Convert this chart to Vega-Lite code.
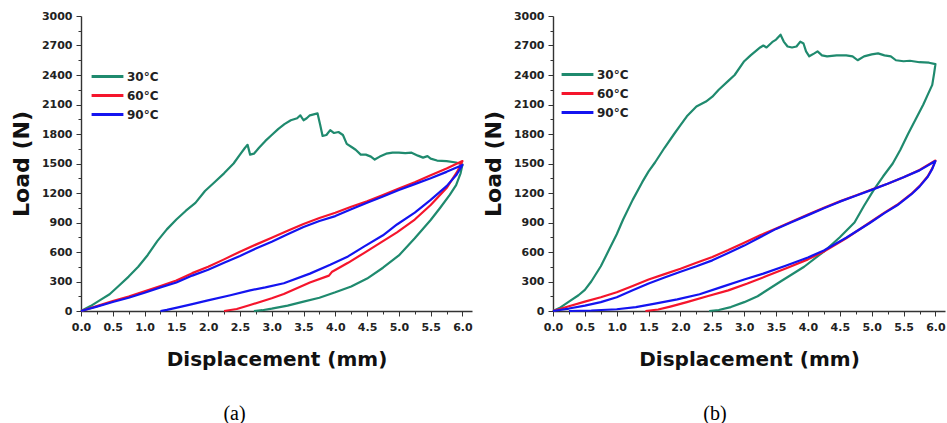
{
  "$schema": "https://vega.github.io/schema/vega-lite/v6.json",
  "background": "white",
  "padding": {"left": 10, "top": 10, "right": 2, "bottom": 0},
  "datasets": {
    "curves": [
      {"p":"a","t":"30°C","i":0,"x":0,"y":0},{"p":"a","t":"30°C","i":1,"x":0.15,"y":50},{"p":"a","t":"30°C","i":2,"x":0.3,"y":110},{"p":"a","t":"30°C","i":3,"x":0.45,"y":170},{"p":"a","t":"30°C","i":4,"x":0.6,"y":260},{"p":"a","t":"30°C","i":5,"x":0.75,"y":350},{"p":"a","t":"30°C","i":6,"x":0.9,"y":450},{"p":"a","t":"30°C","i":7,"x":1.05,"y":570},{"p":"a","t":"30°C","i":8,"x":1.2,"y":710},{"p":"a","t":"30°C","i":9,"x":1.35,"y":830},{"p":"a","t":"30°C","i":10,"x":1.5,"y":930},{"p":"a","t":"30°C","i":11,"x":1.65,"y":1020},{"p":"a","t":"30°C","i":12,"x":1.8,"y":1100},{"p":"a","t":"30°C","i":13,"x":1.95,"y":1220},{"p":"a","t":"30°C","i":14,"x":2.1,"y":1310},{"p":"a","t":"30°C","i":15,"x":2.25,"y":1400},{"p":"a","t":"30°C","i":16,"x":2.4,"y":1500},{"p":"a","t":"30°C","i":17,"x":2.5,"y":1590},{"p":"a","t":"30°C","i":18,"x":2.58,"y":1660},{"p":"a","t":"30°C","i":19,"x":2.62,"y":1690},{"p":"a","t":"30°C","i":20,"x":2.66,"y":1590},{"p":"a","t":"30°C","i":21,"x":2.72,"y":1600},{"p":"a","t":"30°C","i":22,"x":2.8,"y":1660},{"p":"a","t":"30°C","i":23,"x":2.9,"y":1730},{"p":"a","t":"30°C","i":24,"x":3.0,"y":1790},{"p":"a","t":"30°C","i":25,"x":3.1,"y":1850},{"p":"a","t":"30°C","i":26,"x":3.2,"y":1900},{"p":"a","t":"30°C","i":27,"x":3.3,"y":1940},{"p":"a","t":"30°C","i":28,"x":3.4,"y":1960},{"p":"a","t":"30°C","i":29,"x":3.45,"y":1990},{"p":"a","t":"30°C","i":30,"x":3.5,"y":1940},{"p":"a","t":"30°C","i":31,"x":3.55,"y":1960},{"p":"a","t":"30°C","i":32,"x":3.6,"y":1990},{"p":"a","t":"30°C","i":33,"x":3.66,"y":2000},{"p":"a","t":"30°C","i":34,"x":3.72,"y":2010},{"p":"a","t":"30°C","i":35,"x":3.76,"y":1900},{"p":"a","t":"30°C","i":36,"x":3.8,"y":1780},{"p":"a","t":"30°C","i":37,"x":3.86,"y":1790},{"p":"a","t":"30°C","i":38,"x":3.92,"y":1840},{"p":"a","t":"30°C","i":39,"x":3.98,"y":1810},{"p":"a","t":"30°C","i":40,"x":4.05,"y":1820},{"p":"a","t":"30°C","i":41,"x":4.12,"y":1790},{"p":"a","t":"30°C","i":42,"x":4.18,"y":1700},{"p":"a","t":"30°C","i":43,"x":4.25,"y":1670},{"p":"a","t":"30°C","i":44,"x":4.32,"y":1640},{"p":"a","t":"30°C","i":45,"x":4.4,"y":1590},{"p":"a","t":"30°C","i":46,"x":4.48,"y":1590},{"p":"a","t":"30°C","i":47,"x":4.56,"y":1570},{"p":"a","t":"30°C","i":48,"x":4.62,"y":1540},{"p":"a","t":"30°C","i":49,"x":4.7,"y":1570},{"p":"a","t":"30°C","i":50,"x":4.8,"y":1600},{"p":"a","t":"30°C","i":51,"x":4.9,"y":1610},{"p":"a","t":"30°C","i":52,"x":5.0,"y":1610},{"p":"a","t":"30°C","i":53,"x":5.1,"y":1605},{"p":"a","t":"30°C","i":54,"x":5.2,"y":1610},{"p":"a","t":"30°C","i":55,"x":5.3,"y":1580},{"p":"a","t":"30°C","i":56,"x":5.38,"y":1560},{"p":"a","t":"30°C","i":57,"x":5.45,"y":1575},{"p":"a","t":"30°C","i":58,"x":5.5,"y":1550},{"p":"a","t":"30°C","i":59,"x":5.6,"y":1530},{"p":"a","t":"30°C","i":60,"x":5.75,"y":1525},{"p":"a","t":"30°C","i":61,"x":5.9,"y":1510},{"p":"a","t":"30°C","i":62,"x":6.0,"y":1490},{"p":"a","t":"30°C","i":63,"x":5.97,"y":1400},{"p":"a","t":"30°C","i":64,"x":5.9,"y":1280},{"p":"a","t":"30°C","i":65,"x":5.8,"y":1180},{"p":"a","t":"30°C","i":66,"x":5.65,"y":1050},{"p":"a","t":"30°C","i":67,"x":5.5,"y":925},{"p":"a","t":"30°C","i":68,"x":5.25,"y":740},{"p":"a","t":"30°C","i":69,"x":5.0,"y":565},{"p":"a","t":"30°C","i":70,"x":4.75,"y":440},{"p":"a","t":"30°C","i":71,"x":4.5,"y":330},{"p":"a","t":"30°C","i":72,"x":4.25,"y":250},{"p":"a","t":"30°C","i":73,"x":4.0,"y":190},{"p":"a","t":"30°C","i":74,"x":3.75,"y":135},{"p":"a","t":"30°C","i":75,"x":3.5,"y":95},{"p":"a","t":"30°C","i":76,"x":3.25,"y":55},{"p":"a","t":"30°C","i":77,"x":3.0,"y":24},{"p":"a","t":"30°C","i":78,"x":2.85,"y":8},{"p":"a","t":"30°C","i":79,"x":2.72,"y":0},
      {"p":"a","t":"60°C","i":0,"x":0,"y":0},{"p":"a","t":"60°C","i":1,"x":0.25,"y":50},{"p":"a","t":"60°C","i":2,"x":0.5,"y":100},{"p":"a","t":"60°C","i":3,"x":0.75,"y":148},{"p":"a","t":"60°C","i":4,"x":1.0,"y":200},{"p":"a","t":"60°C","i":5,"x":1.25,"y":255},{"p":"a","t":"60°C","i":6,"x":1.5,"y":310},{"p":"a","t":"60°C","i":7,"x":1.75,"y":385},{"p":"a","t":"60°C","i":8,"x":2.0,"y":450},{"p":"a","t":"60°C","i":9,"x":2.25,"y":525},{"p":"a","t":"60°C","i":10,"x":2.5,"y":603},{"p":"a","t":"60°C","i":11,"x":2.75,"y":675},{"p":"a","t":"60°C","i":12,"x":3.0,"y":745},{"p":"a","t":"60°C","i":13,"x":3.25,"y":815},{"p":"a","t":"60°C","i":14,"x":3.5,"y":885},{"p":"a","t":"60°C","i":15,"x":3.75,"y":945},{"p":"a","t":"60°C","i":16,"x":4.0,"y":1000},{"p":"a","t":"60°C","i":17,"x":4.25,"y":1060},{"p":"a","t":"60°C","i":18,"x":4.5,"y":1115},{"p":"a","t":"60°C","i":19,"x":4.75,"y":1180},{"p":"a","t":"60°C","i":20,"x":5.0,"y":1245},{"p":"a","t":"60°C","i":21,"x":5.25,"y":1310},{"p":"a","t":"60°C","i":22,"x":5.5,"y":1380},{"p":"a","t":"60°C","i":23,"x":5.75,"y":1450},{"p":"a","t":"60°C","i":24,"x":6.0,"y":1525},{"p":"a","t":"60°C","i":25,"x":5.92,"y":1420},{"p":"a","t":"60°C","i":26,"x":5.75,"y":1250},{"p":"a","t":"60°C","i":27,"x":5.5,"y":1078},{"p":"a","t":"60°C","i":28,"x":5.25,"y":930},{"p":"a","t":"60°C","i":29,"x":4.97,"y":800},{"p":"a","t":"60°C","i":30,"x":4.7,"y":690},{"p":"a","t":"60°C","i":31,"x":4.45,"y":589},{"p":"a","t":"60°C","i":32,"x":4.2,"y":490},{"p":"a","t":"60°C","i":33,"x":3.95,"y":400},{"p":"a","t":"60°C","i":34,"x":3.9,"y":360},{"p":"a","t":"60°C","i":35,"x":3.6,"y":290},{"p":"a","t":"60°C","i":36,"x":3.19,"y":173},{"p":"a","t":"60°C","i":37,"x":3.0,"y":130},{"p":"a","t":"60°C","i":38,"x":2.66,"y":61},{"p":"a","t":"60°C","i":39,"x":2.45,"y":20},{"p":"a","t":"60°C","i":40,"x":2.25,"y":0},
      {"p":"a","t":"90°C","i":0,"x":0,"y":0},{"p":"a","t":"90°C","i":1,"x":0.25,"y":45},{"p":"a","t":"90°C","i":2,"x":0.5,"y":92},{"p":"a","t":"90°C","i":3,"x":0.75,"y":135},{"p":"a","t":"90°C","i":4,"x":1.0,"y":185},{"p":"a","t":"90°C","i":5,"x":1.25,"y":240},{"p":"a","t":"90°C","i":6,"x":1.5,"y":290},{"p":"a","t":"90°C","i":7,"x":1.75,"y":360},{"p":"a","t":"90°C","i":8,"x":2.0,"y":420},{"p":"a","t":"90°C","i":9,"x":2.25,"y":490},{"p":"a","t":"90°C","i":10,"x":2.5,"y":560},{"p":"a","t":"90°C","i":11,"x":2.75,"y":635},{"p":"a","t":"90°C","i":12,"x":3.0,"y":705},{"p":"a","t":"90°C","i":13,"x":3.25,"y":780},{"p":"a","t":"90°C","i":14,"x":3.5,"y":855},{"p":"a","t":"90°C","i":15,"x":3.75,"y":915},{"p":"a","t":"90°C","i":16,"x":4.0,"y":965},{"p":"a","t":"90°C","i":17,"x":4.25,"y":1035},{"p":"a","t":"90°C","i":18,"x":4.5,"y":1100},{"p":"a","t":"90°C","i":19,"x":4.75,"y":1165},{"p":"a","t":"90°C","i":20,"x":5.0,"y":1230},{"p":"a","t":"90°C","i":21,"x":5.25,"y":1290},{"p":"a","t":"90°C","i":22,"x":5.5,"y":1350},{"p":"a","t":"90°C","i":23,"x":5.75,"y":1415},{"p":"a","t":"90°C","i":24,"x":6.0,"y":1485},{"p":"a","t":"90°C","i":25,"x":5.9,"y":1380},{"p":"a","t":"90°C","i":26,"x":5.75,"y":1270},{"p":"a","t":"90°C","i":27,"x":5.5,"y":1130},{"p":"a","t":"90°C","i":28,"x":5.25,"y":1000},{"p":"a","t":"90°C","i":29,"x":4.97,"y":880},{"p":"a","t":"90°C","i":30,"x":4.75,"y":770},{"p":"a","t":"90°C","i":31,"x":4.45,"y":655},{"p":"a","t":"90°C","i":32,"x":4.2,"y":555},{"p":"a","t":"90°C","i":33,"x":3.92,"y":470},{"p":"a","t":"90°C","i":34,"x":3.6,"y":380},{"p":"a","t":"90°C","i":35,"x":3.19,"y":282},{"p":"a","t":"90°C","i":36,"x":2.9,"y":240},{"p":"a","t":"90°C","i":37,"x":2.66,"y":210},{"p":"a","t":"90°C","i":38,"x":2.35,"y":160},{"p":"a","t":"90°C","i":39,"x":1.98,"y":105},{"p":"a","t":"90°C","i":40,"x":1.75,"y":70},{"p":"a","t":"90°C","i":41,"x":1.51,"y":35},{"p":"a","t":"90°C","i":42,"x":1.35,"y":12},{"p":"a","t":"90°C","i":43,"x":1.25,"y":0},
      {"p":"b","t":"30°C","i":0,"x":0,"y":0},{"p":"b","t":"30°C","i":1,"x":0.1,"y":30},{"p":"b","t":"30°C","i":2,"x":0.25,"y":95},{"p":"b","t":"30°C","i":3,"x":0.4,"y":160},{"p":"b","t":"30°C","i":4,"x":0.5,"y":215},{"p":"b","t":"30°C","i":5,"x":0.6,"y":300},{"p":"b","t":"30°C","i":6,"x":0.75,"y":455},{"p":"b","t":"30°C","i":7,"x":0.9,"y":650},{"p":"b","t":"30°C","i":8,"x":1.0,"y":780},{"p":"b","t":"30°C","i":9,"x":1.1,"y":930},{"p":"b","t":"30°C","i":10,"x":1.25,"y":1130},{"p":"b","t":"30°C","i":11,"x":1.4,"y":1310},{"p":"b","t":"30°C","i":12,"x":1.5,"y":1420},{"p":"b","t":"30°C","i":13,"x":1.6,"y":1510},{"p":"b","t":"30°C","i":14,"x":1.75,"y":1660},{"p":"b","t":"30°C","i":15,"x":1.9,"y":1800},{"p":"b","t":"30°C","i":16,"x":2.0,"y":1890},{"p":"b","t":"30°C","i":17,"x":2.1,"y":1980},{"p":"b","t":"30°C","i":18,"x":2.25,"y":2080},{"p":"b","t":"30°C","i":19,"x":2.4,"y":2130},{"p":"b","t":"30°C","i":20,"x":2.5,"y":2180},{"p":"b","t":"30°C","i":21,"x":2.6,"y":2250},{"p":"b","t":"30°C","i":22,"x":2.75,"y":2340},{"p":"b","t":"30°C","i":23,"x":2.85,"y":2400},{"p":"b","t":"30°C","i":24,"x":3.0,"y":2540},{"p":"b","t":"30°C","i":25,"x":3.1,"y":2600},{"p":"b","t":"30°C","i":26,"x":3.25,"y":2680},{"p":"b","t":"30°C","i":27,"x":3.3,"y":2700},{"p":"b","t":"30°C","i":28,"x":3.35,"y":2680},{"p":"b","t":"30°C","i":29,"x":3.45,"y":2740},{"p":"b","t":"30°C","i":30,"x":3.5,"y":2760},{"p":"b","t":"30°C","i":31,"x":3.57,"y":2810},{"p":"b","t":"30°C","i":32,"x":3.62,"y":2740},{"p":"b","t":"30°C","i":33,"x":3.68,"y":2690},{"p":"b","t":"30°C","i":34,"x":3.75,"y":2680},{"p":"b","t":"30°C","i":35,"x":3.82,"y":2690},{"p":"b","t":"30°C","i":36,"x":3.88,"y":2740},{"p":"b","t":"30°C","i":37,"x":3.93,"y":2720},{"p":"b","t":"30°C","i":38,"x":3.97,"y":2640},{"p":"b","t":"30°C","i":39,"x":4.02,"y":2590},{"p":"b","t":"30°C","i":40,"x":4.1,"y":2620},{"p":"b","t":"30°C","i":41,"x":4.15,"y":2640},{"p":"b","t":"30°C","i":42,"x":4.22,"y":2600},{"p":"b","t":"30°C","i":43,"x":4.3,"y":2590},{"p":"b","t":"30°C","i":44,"x":4.45,"y":2600},{"p":"b","t":"30°C","i":45,"x":4.6,"y":2600},{"p":"b","t":"30°C","i":46,"x":4.7,"y":2590},{"p":"b","t":"30°C","i":47,"x":4.78,"y":2550},{"p":"b","t":"30°C","i":48,"x":4.88,"y":2590},{"p":"b","t":"30°C","i":49,"x":5.0,"y":2610},{"p":"b","t":"30°C","i":50,"x":5.1,"y":2620},{"p":"b","t":"30°C","i":51,"x":5.2,"y":2600},{"p":"b","t":"30°C","i":52,"x":5.3,"y":2590},{"p":"b","t":"30°C","i":53,"x":5.38,"y":2550},{"p":"b","t":"30°C","i":54,"x":5.5,"y":2540},{"p":"b","t":"30°C","i":55,"x":5.6,"y":2545},{"p":"b","t":"30°C","i":56,"x":5.75,"y":2530},{"p":"b","t":"30°C","i":57,"x":5.9,"y":2525},{"p":"b","t":"30°C","i":58,"x":6.0,"y":2510},{"p":"b","t":"30°C","i":59,"x":5.98,"y":2420},{"p":"b","t":"30°C","i":60,"x":5.95,"y":2300},{"p":"b","t":"30°C","i":61,"x":5.88,"y":2200},{"p":"b","t":"30°C","i":62,"x":5.81,"y":2100},{"p":"b","t":"30°C","i":63,"x":5.69,"y":1950},{"p":"b","t":"30°C","i":64,"x":5.57,"y":1800},{"p":"b","t":"30°C","i":65,"x":5.45,"y":1640},{"p":"b","t":"30°C","i":66,"x":5.33,"y":1500},{"p":"b","t":"30°C","i":67,"x":5.18,"y":1370},{"p":"b","t":"30°C","i":68,"x":5.04,"y":1240},{"p":"b","t":"30°C","i":69,"x":4.88,"y":1070},{"p":"b","t":"30°C","i":70,"x":4.73,"y":900},{"p":"b","t":"30°C","i":71,"x":4.5,"y":750},{"p":"b","t":"30°C","i":72,"x":4.26,"y":610},{"p":"b","t":"30°C","i":73,"x":3.94,"y":450},{"p":"b","t":"30°C","i":74,"x":3.57,"y":300},{"p":"b","t":"30°C","i":75,"x":3.21,"y":150},{"p":"b","t":"30°C","i":76,"x":3.0,"y":90},{"p":"b","t":"30°C","i":77,"x":2.79,"y":40},{"p":"b","t":"30°C","i":78,"x":2.6,"y":10},{"p":"b","t":"30°C","i":79,"x":2.45,"y":0},
      {"p":"b","t":"60°C","i":0,"x":0,"y":0},{"p":"b","t":"60°C","i":1,"x":0.25,"y":48},{"p":"b","t":"60°C","i":2,"x":0.5,"y":95},{"p":"b","t":"60°C","i":3,"x":0.75,"y":140},{"p":"b","t":"60°C","i":4,"x":1.0,"y":190},{"p":"b","t":"60°C","i":5,"x":1.25,"y":255},{"p":"b","t":"60°C","i":6,"x":1.5,"y":320},{"p":"b","t":"60°C","i":7,"x":1.75,"y":375},{"p":"b","t":"60°C","i":8,"x":2.0,"y":430},{"p":"b","t":"60°C","i":9,"x":2.25,"y":490},{"p":"b","t":"60°C","i":10,"x":2.5,"y":550},{"p":"b","t":"60°C","i":11,"x":2.75,"y":620},{"p":"b","t":"60°C","i":12,"x":3.0,"y":695},{"p":"b","t":"60°C","i":13,"x":3.25,"y":770},{"p":"b","t":"60°C","i":14,"x":3.5,"y":840},{"p":"b","t":"60°C","i":15,"x":3.75,"y":910},{"p":"b","t":"60°C","i":16,"x":4.0,"y":980},{"p":"b","t":"60°C","i":17,"x":4.25,"y":1050},{"p":"b","t":"60°C","i":18,"x":4.5,"y":1115},{"p":"b","t":"60°C","i":19,"x":4.75,"y":1175},{"p":"b","t":"60°C","i":20,"x":5.0,"y":1235},{"p":"b","t":"60°C","i":21,"x":5.25,"y":1295},{"p":"b","t":"60°C","i":22,"x":5.5,"y":1360},{"p":"b","t":"60°C","i":23,"x":5.75,"y":1435},{"p":"b","t":"60°C","i":24,"x":6.0,"y":1530},{"p":"b","t":"60°C","i":25,"x":5.95,"y":1450},{"p":"b","t":"60°C","i":26,"x":5.88,"y":1370},{"p":"b","t":"60°C","i":27,"x":5.75,"y":1270},{"p":"b","t":"60°C","i":28,"x":5.62,"y":1190},{"p":"b","t":"60°C","i":29,"x":5.4,"y":1080},{"p":"b","t":"60°C","i":30,"x":5.2,"y":1000},{"p":"b","t":"60°C","i":31,"x":4.97,"y":900},{"p":"b","t":"60°C","i":32,"x":4.6,"y":740},{"p":"b","t":"60°C","i":33,"x":4.25,"y":605},{"p":"b","t":"60°C","i":34,"x":4.0,"y":525},{"p":"b","t":"60°C","i":35,"x":3.68,"y":440},{"p":"b","t":"60°C","i":36,"x":3.35,"y":355},{"p":"b","t":"60°C","i":37,"x":3.05,"y":280},{"p":"b","t":"60°C","i":38,"x":2.75,"y":210},{"p":"b","t":"60°C","i":39,"x":2.42,"y":150},{"p":"b","t":"60°C","i":40,"x":2.1,"y":90},{"p":"b","t":"60°C","i":41,"x":1.84,"y":45},{"p":"b","t":"60°C","i":42,"x":1.65,"y":15},{"p":"b","t":"60°C","i":43,"x":1.45,"y":0},
      {"p":"b","t":"90°C","i":0,"x":0,"y":0},{"p":"b","t":"90°C","i":1,"x":0.25,"y":25},{"p":"b","t":"90°C","i":2,"x":0.5,"y":55},{"p":"b","t":"90°C","i":3,"x":0.75,"y":90},{"p":"b","t":"90°C","i":4,"x":1.0,"y":140},{"p":"b","t":"90°C","i":5,"x":1.25,"y":210},{"p":"b","t":"90°C","i":6,"x":1.5,"y":280},{"p":"b","t":"90°C","i":7,"x":1.75,"y":340},{"p":"b","t":"90°C","i":8,"x":2.0,"y":400},{"p":"b","t":"90°C","i":9,"x":2.25,"y":455},{"p":"b","t":"90°C","i":10,"x":2.5,"y":515},{"p":"b","t":"90°C","i":11,"x":2.75,"y":590},{"p":"b","t":"90°C","i":12,"x":3.0,"y":665},{"p":"b","t":"90°C","i":13,"x":3.25,"y":750},{"p":"b","t":"90°C","i":14,"x":3.5,"y":835},{"p":"b","t":"90°C","i":15,"x":3.75,"y":905},{"p":"b","t":"90°C","i":16,"x":4.0,"y":975},{"p":"b","t":"90°C","i":17,"x":4.25,"y":1045},{"p":"b","t":"90°C","i":18,"x":4.5,"y":1112},{"p":"b","t":"90°C","i":19,"x":4.75,"y":1172},{"p":"b","t":"90°C","i":20,"x":5.0,"y":1232},{"p":"b","t":"90°C","i":21,"x":5.25,"y":1295},{"p":"b","t":"90°C","i":22,"x":5.5,"y":1360},{"p":"b","t":"90°C","i":23,"x":5.75,"y":1430},{"p":"b","t":"90°C","i":24,"x":6.0,"y":1525},{"p":"b","t":"90°C","i":25,"x":5.95,"y":1445},{"p":"b","t":"90°C","i":26,"x":5.88,"y":1365},{"p":"b","t":"90°C","i":27,"x":5.75,"y":1265},{"p":"b","t":"90°C","i":28,"x":5.62,"y":1185},{"p":"b","t":"90°C","i":29,"x":5.4,"y":1075},{"p":"b","t":"90°C","i":30,"x":5.2,"y":995},{"p":"b","t":"90°C","i":31,"x":4.97,"y":895},{"p":"b","t":"90°C","i":32,"x":4.6,"y":745},{"p":"b","t":"90°C","i":33,"x":4.25,"y":615},{"p":"b","t":"90°C","i":34,"x":4.0,"y":545},{"p":"b","t":"90°C","i":35,"x":3.65,"y":460},{"p":"b","t":"90°C","i":36,"x":3.3,"y":380},{"p":"b","t":"90°C","i":37,"x":3.0,"y":320},{"p":"b","t":"90°C","i":38,"x":2.65,"y":245},{"p":"b","t":"90°C","i":39,"x":2.3,"y":170},{"p":"b","t":"90°C","i":40,"x":1.95,"y":118},{"p":"b","t":"90°C","i":41,"x":1.6,"y":75},{"p":"b","t":"90°C","i":42,"x":1.3,"y":40},{"p":"b","t":"90°C","i":43,"x":1.0,"y":18},{"p":"b","t":"90°C","i":44,"x":0.6,"y":5},{"p":"b","t":"90°C","i":45,"x":0.25,"y":0}
    ]
  },
  "hconcat": [
    {
      "width": 391,
      "height": 295,
      "data": {"name": "curves"},
      "transform": [{"filter": "datum.p === 'a'"}],
      "title": {"text": "(a)", "orient": "bottom", "font": "Liberation Serif", "fontSize": 20, "fontWeight": "normal", "color": "#000", "offset": 35, "anchor": "middle", "dx": -42},
      "mark": {"type": "line", "strokeWidth": 2.2, "strokeJoin": "round"},
      "encoding": {
        "x": {"field": "x", "type": "quantitative", "scale": {"domain": [0, 6.15], "nice": false, "zero": false},
          "axis": {"title": "Displacement (mm)", "values": [0,0.25,0.5,0.75,1,1.25,1.5,1.75,2,2.25,2.5,2.75,3,3.25,3.5,3.75,4,4.25,4.5,4.75,5,5.25,5.5,5.75,6],
            "labelExpr": "round(datum.value*4) % 2 === 0 ? format(datum.value, '.1f') : ''",
            "tickSize": {"condition": {"test": "round(datum.value*4) % 2 === 0", "value": 5}, "value": 3}}},
        "y": {"field": "y", "type": "quantitative", "scale": {"domain": [0, 3000], "nice": false},
          "axis": {"title": "Load (N)", "format": "d", "values": [0,150,300,450,600,750,900,1050,1200,1350,1500,1650,1800,1950,2100,2250,2400,2550,2700,2850,3000],
            "labelExpr": "datum.value % 300 === 0 ? datum.label : ''",
            "tickSize": {"condition": {"test": "datum.value % 300 === 0", "value": 5}, "value": 3}}},
        "color": {"field": "t", "type": "nominal",
          "scale": {"domain": ["30°C", "60°C", "90°C"], "range": ["#1f8a6e", "#f5152c", "#1414f0"]},
          "legend": {"orient": "none", "legendX": 14, "legendY": 48, "title": null, "symbolType": "M-1.5,0H1.5", "symbolSize": 450, "symbolStrokeWidth": 3, "labelFont": "DejaVu Sans", "labelFontWeight": "bold", "labelFontSize": 12, "labelColor": "#222", "labelOffset": 7, "rowPadding": -2}},
        "order": {"field": "i", "type": "quantitative"}
      }
    },
    {
      "width": 392,
      "height": 295,
      "data": {"name": "curves"},
      "transform": [{"filter": "datum.p === 'b'"}],
      "title": {"text": "(b)", "orient": "bottom", "font": "Liberation Serif", "fontSize": 20, "fontWeight": "normal", "color": "#000", "offset": 35, "anchor": "middle", "dx": -34},
      "mark": {"type": "line", "strokeWidth": 2.2, "strokeJoin": "round"},
      "encoding": {
        "x": {"field": "x", "type": "quantitative", "scale": {"domain": [0, 6.15], "nice": false, "zero": false},
          "axis": {"title": "Displacement (mm)", "values": [0,0.25,0.5,0.75,1,1.25,1.5,1.75,2,2.25,2.5,2.75,3,3.25,3.5,3.75,4,4.25,4.5,4.75,5,5.25,5.5,5.75,6],
            "labelExpr": "round(datum.value*4) % 2 === 0 ? format(datum.value, '.1f') : ''",
            "tickSize": {"condition": {"test": "round(datum.value*4) % 2 === 0", "value": 5}, "value": 3}}},
        "y": {"field": "y", "type": "quantitative", "scale": {"domain": [0, 3000], "nice": false},
          "axis": {"title": "Load (N)", "format": "d", "values": [0,150,300,450,600,750,900,1050,1200,1350,1500,1650,1800,1950,2100,2250,2400,2550,2700,2850,3000],
            "labelExpr": "datum.value % 300 === 0 ? datum.label : ''",
            "tickSize": {"condition": {"test": "datum.value % 300 === 0", "value": 5}, "value": 3}}},
        "color": {"field": "t", "type": "nominal",
          "scale": {"domain": ["30°C", "60°C", "90°C"], "range": ["#1f8a6e", "#f5152c", "#1414f0"]},
          "legend": {"orient": "none", "legendX": 12, "legendY": 46, "title": null, "symbolType": "M-1.5,0H1.5", "symbolSize": 450, "symbolStrokeWidth": 3, "labelFont": "DejaVu Sans", "labelFontWeight": "bold", "labelFontSize": 12, "labelColor": "#222", "labelOffset": 7, "rowPadding": -2}},
        "order": {"field": "i", "type": "quantitative"}
      }
    }
  ],
  "spacing": 81,
  "bounds": "flush",
  "resolve": {"legend": {"color": "independent"}},
  "config": {
    "view": {"stroke": null},
    "axis": {
      "grid": false,
      "domainColor": "#333",
      "domainWidth": 1.4,
      "tickColor": "#333",
      "tickWidth": 1,
      "labelFont": "DejaVu Sans",
      "labelFontWeight": "bold",
      "labelFontSize": 11,
      "labelColor": "#222",
      "labelPadding": 4,
      "labelOverlap": false,
      "labelFlush": false,
      "titleFont": "DejaVu Sans",
      "titleFontWeight": "bold",
      "titleColor": "#111"
    },
    "axisX": {"titleFontSize": 20, "titlePadding": 17, "labelPadding": 5},
    "axisY": {"titleFontSize": 22, "titlePadding": 8}
  }
}
